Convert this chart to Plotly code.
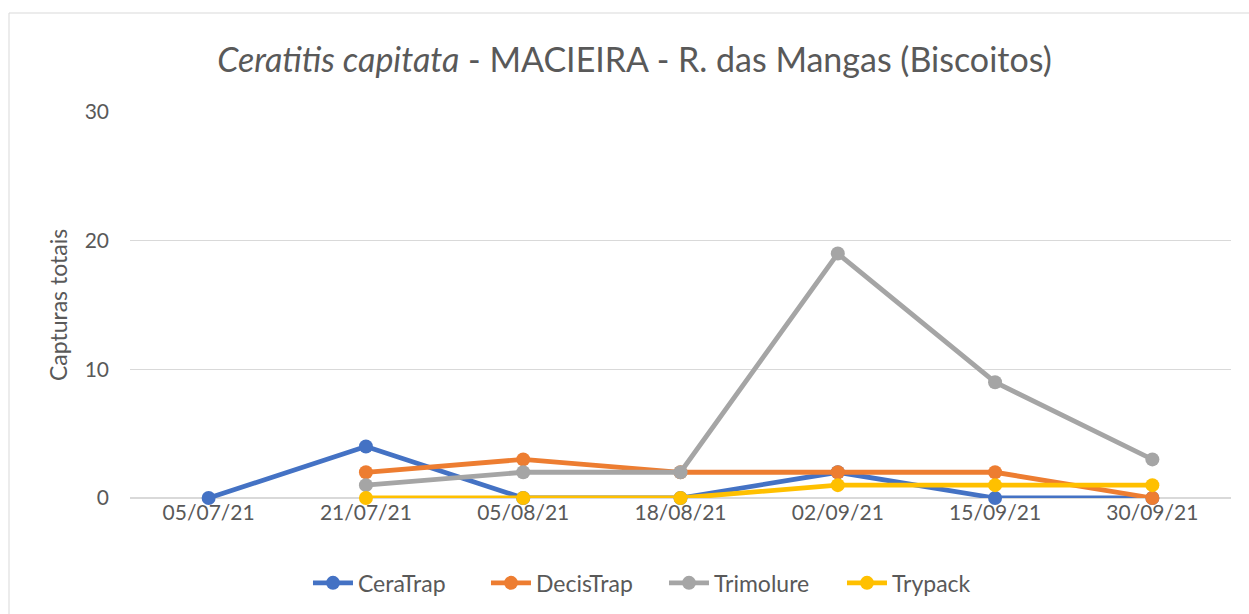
import plotly.graph_objects as go

dates = ["05/07/21", "21/07/21", "05/08/21", "18/08/21", "02/09/21", "15/09/21", "30/09/21"]
ceratrap = [0, 4, 0, 0, 2, 0, 0]
decistrap = [None, 2, 3, 2, 2, 2, 0]
trimolure = [None, 1, 2, 2, 19, 9, 3]
trypack = [None, 0, 0, 0, 1, 1, 1]

series = [
    ("CeraTrap", ceratrap, "#4472C4"),
    ("DecisTrap", decistrap, "#ED7D31"),
    ("Trimolure", trimolure, "#A5A5A5"),
    ("Trypack", trypack, "#FFC000"),
]

W, H = 1249, 614
ml, mr, mt, mb = 130, 18, 112, 116

fig = go.Figure()
for name, vals, col in series:
    fig.add_trace(go.Scatter(
        x=dates, y=vals, name=name, mode="lines+markers",
        line=dict(color=col, width=4.8),
        marker=dict(color=col, size=14),
        connectgaps=False, cliponaxis=False,
    ))

pw = W - ml - mr
ph = H - mt - mb
fig.add_shape(type="rect", xref="paper", yref="paper",
              x0=(9 - ml) / pw, x1=(W + 5 - ml) / pw,
              y0=(H - mb - (H + 5)) / ph, y1=(H - mb - 13) / ph,
              line=dict(color="#D9D9D9", width=1), fillcolor="rgba(0,0,0,0)", layer="below")

font_fam = "Lato, 'Open Sans', sans-serif"
fig.update_layout(
    width=W, height=H,
    margin=dict(l=ml, r=mr, t=mt, b=mb, autoexpand=False),
    paper_bgcolor="white", plot_bgcolor="white",
    font=dict(family=font_fam, color="#595959", size=21),
    title=dict(text="<i>Ceratitis capitata</i> - MACIEIRA - R. das Mangas (Biscoitos)",
               x=0.508, xanchor="center", y=0.902, yanchor="middle",
               font=dict(size=34, color="#595959", family=font_fam)),
    xaxis=dict(type="category", range=[-0.5, 6.5], showgrid=False, zeroline=False, showline=False,
               ticks="", tickfont=dict(size=21, color="#595959"), fixedrange=True),
    yaxis=dict(range=[0, 30], tickvals=[0, 10, 20, 30], showgrid=True,
               gridcolor="#D9D9D9", gridwidth=1, zeroline=True, zerolinecolor="#D9D9D9",
               zerolinewidth=1.5,
               tickfont=dict(size=21, color="#595959"), ticks="", ticklabelstandoff=20,
               title=dict(text="Capturas totais", font=dict(size=23, color="#595959"), standoff=10)),
    legend=dict(orientation="h", x=0.485, xanchor="center", y=-0.22, yanchor="middle",
                font=dict(size=23, color="#595959"), itemwidth=40, tracegroupgap=0,
                entrywidth=123, entrywidthmode="pixels"),
    showlegend=True,
)
fig.update_yaxes(automargin=False)
fig.update_xaxes(automargin=False)
fig.write_html("out.html", config={"displayModeBar": False},
               post_script="document.body.style.margin='0';document.body.style.overflow='hidden';")
